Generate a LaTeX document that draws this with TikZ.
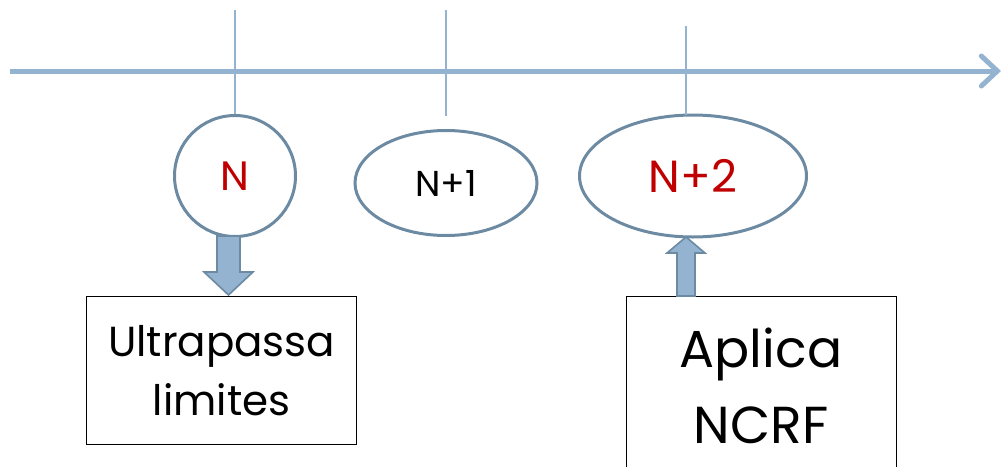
\documentclass[tikz,border=0pt]{standalone}
\usepackage{fontspec}
\setmainfont{Poppins}
\usetikzlibrary{arrows.meta,shapes.geometric}
\definecolor{axisblue}{HTML}{93B3D0}
\definecolor{edgeblue}{HTML}{6D8AA3}
\definecolor{darkred}{HTML}{C00000}
\tikzset{
  ev/.style={ellipse,draw=edgeblue,line width=3pt,fill=white,inner sep=0pt},
  tick/.style={draw=axisblue,line width=1.2pt},
  box/.style={draw=black,line width=1.3pt,fill=white,inner sep=0pt,align=center},
  blk/.style={draw=edgeblue,fill=axisblue,line width=1.6pt,line join=miter}
}
\begin{document}
\begin{tikzpicture}[x=1pt,y=-1pt]
\useasboundingbox (0,0) rectangle (1004,466);
% axis
\coordinate (a0) at (10,71);
\coordinate (a1) at (1001,71);
\draw[draw=axisblue,line width=5pt,-{Straight Barb[length=16pt,width=30pt,line cap=round,line width=5pt]}] (a0) -- (a1);
% event nodes
\node[ev,minimum width=121pt,minimum height=121pt,text=darkred,font=\fontsize{41}{44}\selectfont] (n) at (235,176) {N};
\node[ev,minimum width=182pt,minimum height=105pt,font=\fontsize{36}{40}\selectfont] (n1) at (446,183) {N+1};
\node[ev,minimum width=227pt,minimum height=122pt,text=darkred,font=\fontsize{45}{48}\selectfont] (n2) at (693,176) {N+2};
% ticks
\coordinate (t0) at (235,10);
\coordinate (t1) at (446,10);
\coordinate (t1b) at (446,116);
\coordinate (t2) at (686,26);
\coordinate (t2b) at (686,115);
\draw[tick] (t0) -- (n.north);
\draw[tick] (t1) -- (t1b);
\draw[tick] (t2) -- (t2b);
% boxes
\node[box,minimum width=270pt,minimum height=148pt,anchor=north west,font=\fontsize{42}{59}\selectfont] (b1) at (86,296) {Ultrapassa\\limites};
\node[box,minimum width=270pt,minimum height=200pt,anchor=north west] (b2) at (626,296) {};
\node[align=center,anchor=base,font=\fontsize{52}{76}\selectfont] (b2t) at (761,443) {Aplica\\NCRF};
% block arrows
\draw[blk] (217,236) -- (240,236) -- (240,272) -- (253,272) -- (228.5,295) -- (204,272) -- (217,272) -- cycle;
\draw[blk] (677,296) -- (695,296) -- (695,253) -- (705,253) -- (686,237) -- (667,253) -- (677,253) -- cycle;
\end{tikzpicture}
\end{document}
